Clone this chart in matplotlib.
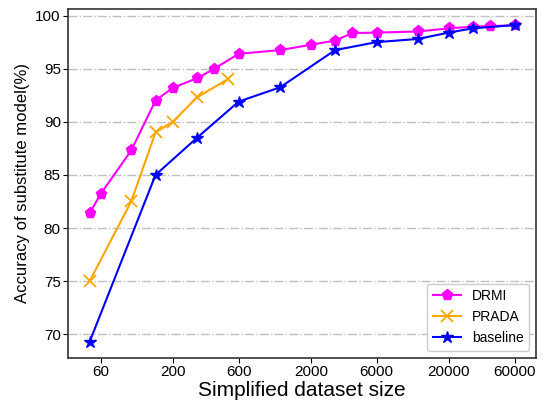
import matplotlib
matplotlib.use("Agg")
import matplotlib.pyplot as plt

plt.rcParams['font.family'] = ['Liberation Sans', 'DejaVu Sans']

drmi_x = [50, 60, 100, 150, 200, 300, 400, 600, 1200, 2000, 3000, 4000, 6000, 12000, 20000, 30000, 40000, 60000]
drmi_y = [81.4, 83.2, 87.3, 92.0, 93.2, 94.1, 95.0, 96.4, 96.75, 97.25, 97.65, 98.35, 98.4, 98.5, 98.8, 98.95, 99.0, 99.1]

prada_x = [50, 100, 150, 200, 300, 500]
prada_y = [75.0, 82.5, 89.0, 90.0, 92.3, 94.0]

base_x = [50, 150, 300, 600, 1200, 3000, 6000, 12000, 20000, 30000, 60000]
base_y = [69.3, 85.0, 88.5, 91.9, 93.25, 96.75, 97.5, 97.8, 98.4, 98.8, 99.1]

xticks = [60, 200, 600, 2000, 6000, 20000, 60000]
yticks = [70, 75, 80, 85, 90, 95, 100]

fig = plt.figure(figsize=(5.43, 4.04), dpi=100)
ax = fig.add_axes([0.126, 0.115, 0.861, 0.862])

ax.plot(drmi_x, drmi_y, color='magenta', marker='p', markersize=8, linewidth=1.5, label='DRMI')
ax.plot(prada_x, prada_y, color='orange', marker='x', markersize=9, markeredgewidth=1.3, linewidth=1.5, label='PRADA')
ax.plot(base_x, base_y, color='blue', marker='*', markersize=9, linewidth=1.5, label='baseline')

ax.set_xscale('log')
ax.set_xticks(xticks)
ax.set_xticklabels([str(t) for t in xticks])
ax.minorticks_off()
ax.set_yticks(yticks)
ax.tick_params(axis='both', labelsize=11, direction='out', length=3.5, pad=2)

ax.grid(axis='y', linestyle='-.', color='#c0c0c0', linewidth=1)
ax.set_axisbelow(True)

for s in ax.spines.values():
    s.set_color('#333333')
    s.set_linewidth(1.2)

ax.set_xlabel('Simplified dataset size', fontsize=15, labelpad=1)
ax.set_ylabel('Accuracy of substitute model(%)', fontsize=12, labelpad=4)

ax.legend(loc='lower right', fontsize=10, framealpha=1, edgecolor='#cccccc')

fig.savefig('out.png', dpi=100)
